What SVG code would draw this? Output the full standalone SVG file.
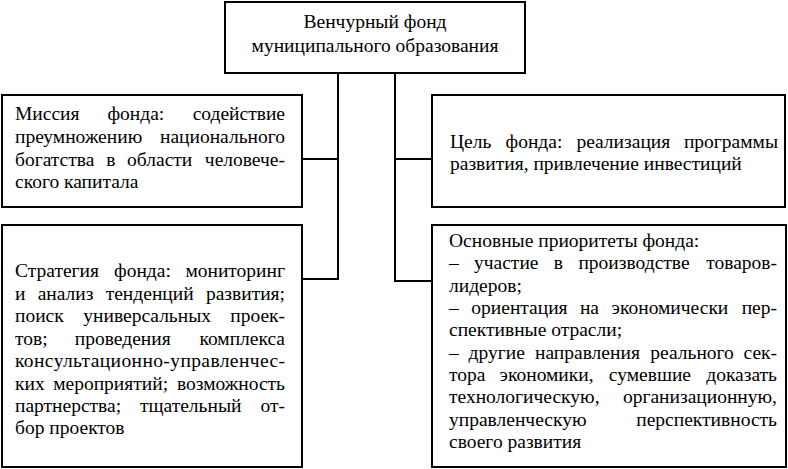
<svg xmlns="http://www.w3.org/2000/svg" width="788" height="469" viewBox="0 0 788 469">
<style>
  .box { fill: #fff; stroke: #000; stroke-width: 2; }
  .ln { stroke: #000; stroke-width: 2; fill: none; }
  .t { font-family: 'Liberation Serif', 'Times New Roman', serif; font-size: 19.5px; fill: #000; }
  .c { text-anchor: middle; }
  .e { text-anchor: end; }
</style>
<rect width="788" height="469" fill="#fff"/>
<g id="connectors">
  <polyline class="ln" points="338,73 338,279 302,279"/>
  <line class="ln" x1="338" y1="159" x2="302" y2="159"/>
  <polyline class="ln" points="395,73 395,281 432,281"/>
  <line class="ln" x1="395" y1="159" x2="432" y2="159"/>
</g>
<g id="top">
  <rect class="box" x="225" y="2" width="300" height="71"/>
  <text class="t c" x="375" y="28">Венчурный фонд</text>
  <text class="t c" x="375" y="52">муниципального образования</text>
</g>
<g id="mission">
  <rect class="box" x="2" y="95" width="300" height="112"/>
  <text class="t" y="120"><tspan x="15">Миссия</tspan><tspan x="107.4">фонда:</tspan><tspan x="285" class="e">содействие</tspan></text>
  <text class="t" y="143"><tspan x="15">преумножению</tspan><tspan x="285" class="e">национального</tspan></text>
  <text class="t" y="166"><tspan x="15">богатства</tspan><tspan x="106.3">в</tspan><tspan x="127.1">области</tspan><tspan x="285" class="e">человече-</tspan></text>
  <text class="t" x="15" y="188">ского капитала</text>
</g>
<g id="goal">
  <rect class="box" x="432" y="95" width="353" height="112"/>
  <text class="t" y="148"><tspan x="450">Цель</tspan><tspan x="505.5">фонда:</tspan><tspan x="576.4">реализация</tspan><tspan x="778" class="e">программы</tspan></text>
  <text class="t" x="450" y="170">развития, привлечение инвестиций</text>
</g>
<g id="strategy">
  <rect class="box" x="2" y="225" width="300" height="242"/>
  <text class="t" y="277"><tspan x="15">Стратегия</tspan><tspan x="114">фонда:</tspan><tspan x="285" class="e">мониторинг</tspan></text>
  <text class="t" y="300"><tspan x="15">и</tspan><tspan x="37.7">анализ</tspan><tspan x="105.7">тенденций</tspan><tspan x="285" class="e">развития;</tspan></text>
  <text class="t" y="322"><tspan x="15">поиск</tspan><tspan x="83.3">универсальных</tspan><tspan x="285" class="e">проек-</tspan></text>
  <text class="t" y="345"><tspan x="15">тов;</tspan><tspan x="74.8">проведения</tspan><tspan x="285" class="e">комплекса</tspan></text>
  <text class="t" x="15" y="367" textLength="270" lengthAdjust="spacing">консультационно-управленчес-</text>
  <text class="t" y="390"><tspan x="15">ких</tspan><tspan x="53.2">мероприятий;</tspan><tspan x="285" class="e">возможность</tspan></text>
  <text class="t" y="412"><tspan x="15">партнерства;</tspan><tspan x="140">тщательный</tspan><tspan x="285" class="e">от-</tspan></text>
  <text class="t" x="15" y="434">бор проектов</text>
</g>
<g id="priorities">
  <rect class="box" x="432" y="225" width="354" height="242"/>
  <text class="t" x="449" y="247">Основные приоритеты фонда:</text>
  <text class="t" y="269"><tspan x="449">–</tspan><tspan x="474">участие</tspan><tspan x="553.8">в</tspan><tspan x="578.4">производстве</tspan><tspan x="777" class="e">товаров-</tspan></text>
  <text class="t" x="449" y="292">лидеров;</text>
  <text class="t" y="314"><tspan x="449">–</tspan><tspan x="471.3">ориентация</tspan><tspan x="579.9">на</tspan><tspan x="611.6">экономически</tspan><tspan x="777" class="e">пер-</tspan></text>
  <text class="t" x="449" y="336">спективные отрасли;</text>
  <text class="t" y="359"><tspan x="449">–</tspan><tspan x="468.6">другие</tspan><tspan x="535">направления</tspan><tspan x="650.3">реального</tspan><tspan x="777" class="e">сек-</tspan></text>
  <text class="t" y="381"><tspan x="449">тора</tspan><tspan x="499.6">экономики,</tspan><tspan x="608.8">сумевшие</tspan><tspan x="777" class="e">доказать</tspan></text>
  <text class="t" y="403"><tspan x="449">технологическую,</tspan><tspan x="777" class="e">организационную,</tspan></text>
  <text class="t" y="426"><tspan x="449">управленческую</tspan><tspan x="777" class="e">перспективность</tspan></text>
  <text class="t" x="449" y="448">своего развития</text>
</g>
</svg>
